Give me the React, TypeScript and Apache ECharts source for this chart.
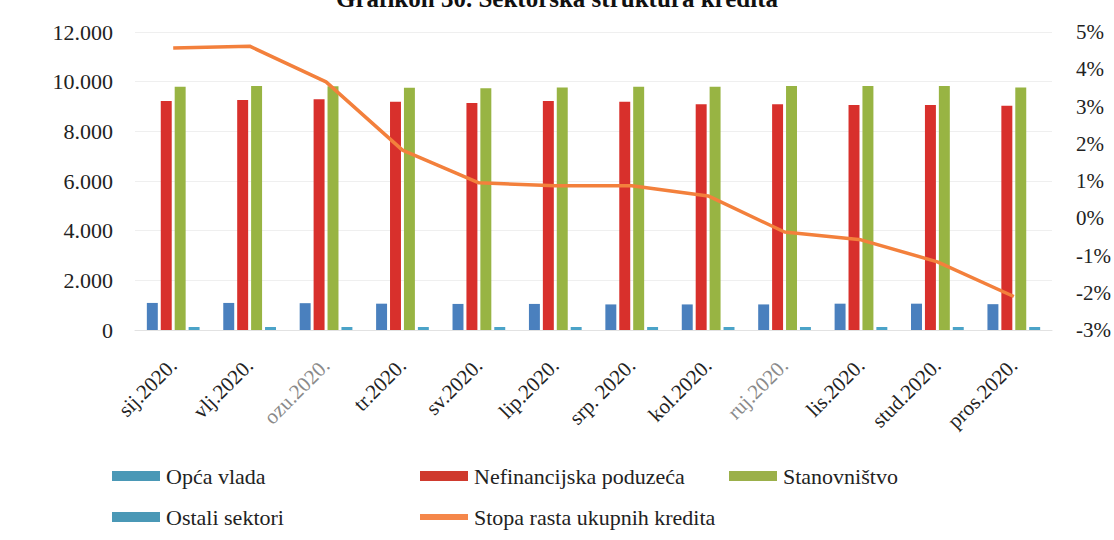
import React, { useEffect, useRef } from "react";
import * as echarts from "echarts";

const categories = ["sij.2020.", "vlj.2020.", "ozu.2020.", "tr.2020.", "sv.2020.", "lip.2020.", "srp. 2020.", "kol.2020.", "ruj.2020.", "lis.2020.", "stud.2020.", "pros.2020."];
const grayLabels = ["ozu.2020.", "ruj.2020."];
const opcaVlada = [1090, 1090, 1080, 1060, 1050, 1050, 1030, 1030, 1030, 1060, 1060, 1040];
const nefinancijska = [9220, 9260, 9290, 9190, 9140, 9220, 9190, 9090, 9090, 9060, 9060, 9030];
const stanovnistvo = [9800, 9830, 9820, 9760, 9730, 9770, 9800, 9800, 9830, 9830, 9830, 9770];
const ostali = [120, 120, 120, 120, 120, 120, 120, 120, 120, 120, 120, 120];
const stopaRasta = [4.57, 4.62, 3.66, 1.83, 0.95, 0.87, 0.87, 0.6, -0.37, -0.58, -1.17, -2.1];

const seriesNames = ["Opća vlada", "Nefinancijska poduzeća", "Stanovništvo", "Ostali sektori", "Stopa rasta ukupnih kredita"];
const seriesColors = ["#4A80BE", "#D8302C", "#98B443", "#4BA3C8", "#F3803C"];
const legendColors = ["#4A98B6", "#CF3A2E", "#9BB04A", "#4A98B6", "#F5874A"];

const title = "Grafikon 30. Sektorska struktura kredita";
const FONT = "Liberation Serif";

export default function App() {
  const ref = useRef<HTMLDivElement>(null);
  useEffect(() => {
    document.body.style.margin = "0";
    const chart = echarts.init(ref.current!, null, { renderer: "svg" });
    // legend layout: [left of swatch, row centre y]
    const legendPos = [
      [112, 476],
      [420, 476],
      [729, 476],
      [112, 517],
      [420, 517],
    ];
    const legendGraphics: any[] = [];
    seriesNames.forEach((name, i) => {
      const [lx, cy] = legendPos[i];
      const h = i === 4 ? 6 : 10;
      legendGraphics.push({
        type: "rect",
        shape: { x: lx, y: cy - h / 2, width: 48, height: h },
        style: { fill: legendColors[i] },
        silent: true,
      });
      legendGraphics.push({
        type: "text",
        x: lx + 54,
        y: cy,
        style: {
          text: name,
          font: `22px ${FONT}`,
          fill: "#222",
          verticalAlign: "middle",
          align: "left",
        },
        silent: true,
      });
    });
    chart.setOption({
      animation: false,
      backgroundColor: "#ffffff",
      textStyle: { fontFamily: FONT },
      graphic: [
        {
          type: "text",
          left: "center",
          y: -14,
          style: { text: title, font: `bold 25px ${FONT}`, fill: "#111" },
        },
        ...legendGraphics,
      ],
      grid: { left: 135, right: 58, top: 32, bottom: 210 },
      xAxis: {
        type: "category",
        data: categories.map((c) => ({
          value: c,
          textStyle: { color: grayLabels.includes(c) ? "#8a8a8a" : "#222" },
        })),
        axisTick: { show: false },
        axisLine: { lineStyle: { color: "#e2e2e2" } },
        axisLabel: { rotate: 45, fontFamily: FONT, fontSize: 21, margin: 32, interval: 0 },
      },
      yAxis: [
        {
          type: "value",
          min: 0,
          max: 12000,
          interval: 2000,
          axisLine: { show: false },
          axisTick: { show: false },
          splitLine: { lineStyle: { color: "#efefef" } },
          axisLabel: {
            fontFamily: FONT,
            fontSize: 22,
            color: "#222",
            margin: 22,
            formatter: (v: number) => (v >= 1000 ? `${Math.floor(v / 1000)}.${String(v % 1000).padStart(3, "0")}` : `${v}`),
          },
        },
        {
          type: "value",
          min: -3,
          max: 5,
          interval: 1,
          axisLine: { show: false },
          axisTick: { show: false },
          splitLine: { show: false },
          axisLabel: { fontFamily: FONT, fontSize: 21, color: "#222", margin: 24, formatter: "{value}%" },
        },
      ],
      series: [
        { name: seriesNames[0], type: "bar", data: opcaVlada, itemStyle: { color: seriesColors[0] }, barGap: "27%", barCategoryGap: "31%" },
        { name: seriesNames[1], type: "bar", data: nefinancijska, itemStyle: { color: seriesColors[1] } },
        { name: seriesNames[2], type: "bar", data: stanovnistvo, itemStyle: { color: seriesColors[2] } },
        { name: seriesNames[3], type: "bar", data: ostali, itemStyle: { color: seriesColors[3] } },
        {
          name: seriesNames[4],
          type: "line",
          yAxisIndex: 1,
          data: stopaRasta,
          showSymbol: false,
          symbol: "none",
          lineStyle: { color: seriesColors[4], width: 3.5 },
          itemStyle: { color: seriesColors[4] },
          z: 5,
        },
      ],
    });
    return () => chart.dispose();
  }, []);
  return <div ref={ref} style={{ position: "fixed", left: 0, top: 0, width: 1114, height: 540, background: "#fff" }} />;
}
